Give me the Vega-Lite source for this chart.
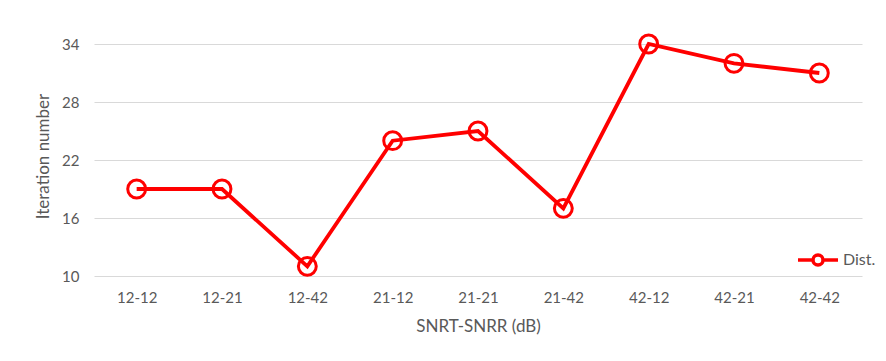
{
  "$schema": "https://vega.github.io/schema/vega-lite/v6.json",
  "width": 768,
  "height": 232,
  "autosize": {"type": "none"},
  "padding": {"left": 94, "top": 44, "right": 24, "bottom": 85},
  "background": "white",
  "config": {
    "font": "Lato",
    "view": {"stroke": null},
    "axis": {"labelColor": "#595959", "titleColor": "#595959", "labelFont": "Lato", "titleFont": "Lato", "labelFontSize": 15, "titleFontSize": 17, "titleFontWeight": "normal"}
  },
  "data": {
    "values": [
      {"cond": "12-12", "iter": 19, "series": "Dist."},
      {"cond": "12-21", "iter": 19, "series": "Dist."},
      {"cond": "12-42", "iter": 11, "series": "Dist."},
      {"cond": "21-12", "iter": 24, "series": "Dist."},
      {"cond": "21-21", "iter": 25, "series": "Dist."},
      {"cond": "21-42", "iter": 17, "series": "Dist."},
      {"cond": "42-12", "iter": 34, "series": "Dist."},
      {"cond": "42-21", "iter": 32, "series": "Dist."},
      {"cond": "42-42", "iter": 31, "series": "Dist."}
    ]
  },
  "encoding": {
    "x": {
      "field": "cond", "type": "ordinal", "sort": null,
      "scale": {"type": "point", "padding": 0.5},
      "axis": {"title": "SNRT-SNRR (dB)", "labelAngle": 0, "ticks": false, "domain": false, "grid": false, "labelPadding": 14, "titleY": 50, "titleBaseline": "middle"}
    },
    "y": {
      "field": "iter", "type": "quantitative",
      "scale": {"domain": [10, 34], "nice": false, "zero": false},
      "axis": {"title": "Iteration number", "values": [10, 16, 22, 28, 34], "ticks": false, "domain": false, "labelPadding": 15, "gridColor": "#d9d9d9", "gridWidth": 1, "titleX": -42, "titleY": 112, "titleAngle": -90, "titleBaseline": "bottom", "titleAlign": "center"}
    },
    "color": {
      "field": "series", "type": "nominal",
      "scale": {"range": ["#ff0000"]},
      "legend": {
        "title": null, "orient": "none", "legendX": 702, "legendY": 194,
        "symbolType": "M-1,0 L-0.25,0 M0.25,0 L1,0 M-0.25,0 A0.25,0.25 0 1,1 0.25,0 A0.25,0.25 0 1,1 -0.25,0",
        "symbolSize": 1600, "symbolStrokeWidth": 3.5, "symbolFillColor": "transparent", "symbolStrokeColor": "#ff0000",
        "labelFont": "Lato", "labelFontSize": 16, "labelColor": "#595959", "labelOffset": 3
      }
    }
  },
  "layer": [
    {"mark": {"type": "line", "strokeWidth": 3.8, "color": "#ff0000"}},
    {"mark": {"type": "point", "shape": "circle", "filled": false, "size": 320, "strokeWidth": 3, "color": "#ff0000", "fill": "white", "fillOpacity": 0}}
  ]
}
